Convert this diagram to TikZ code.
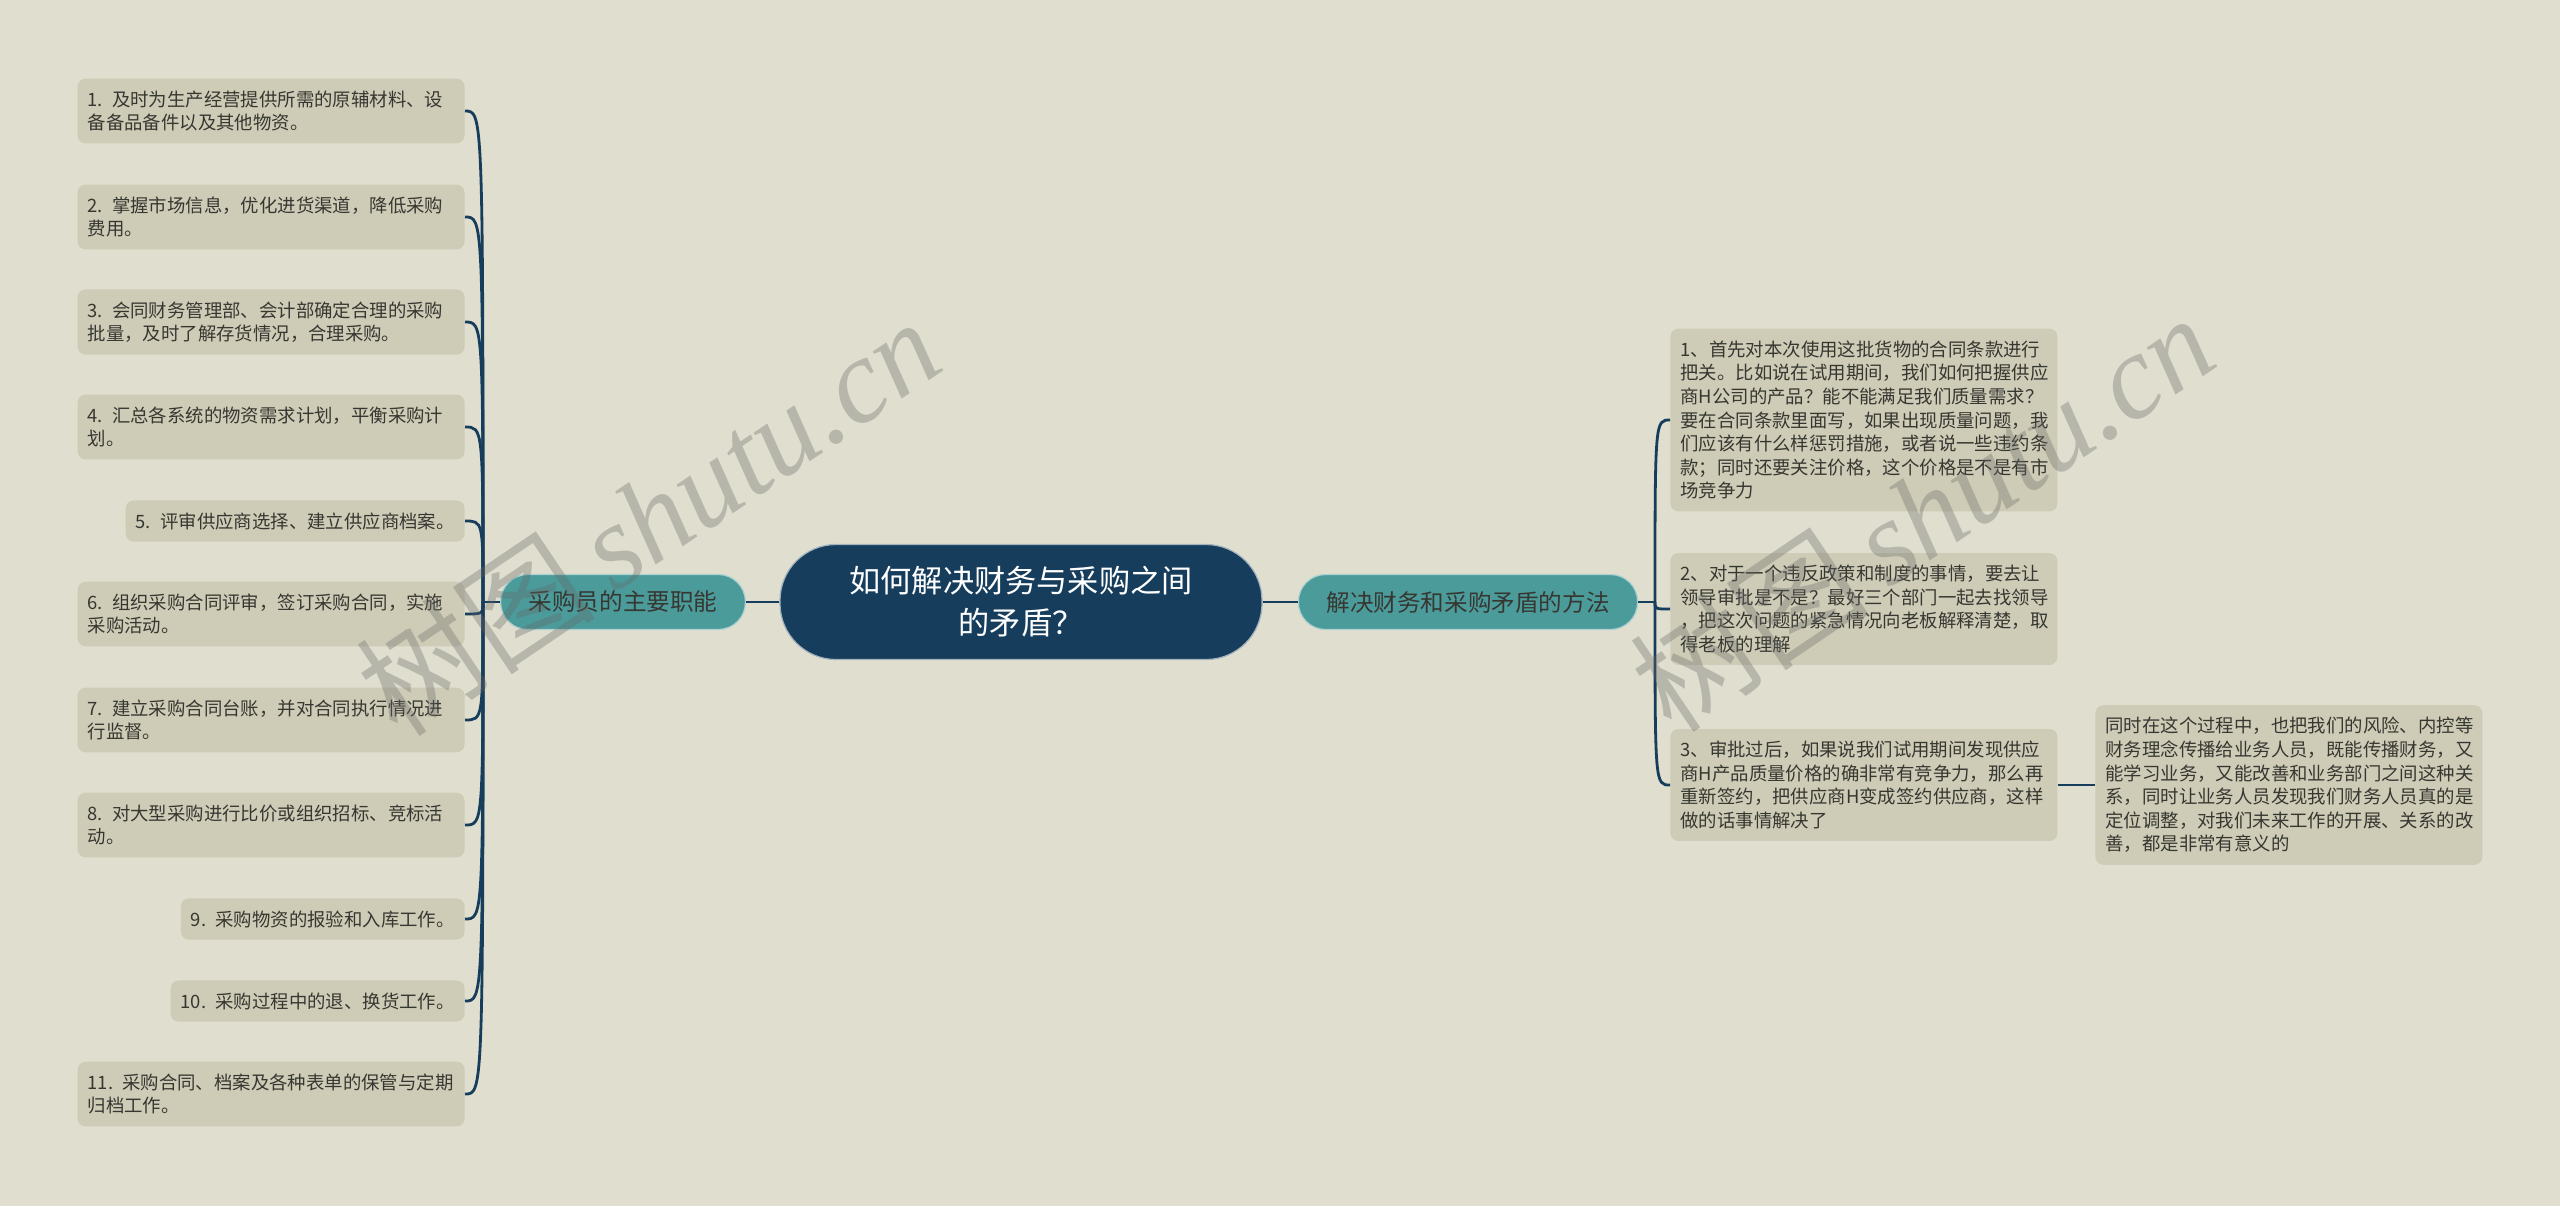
\documentclass[tikz,border=0pt]{standalone}
\usepackage{fontspec}
\setmainfont{Noto Sans CJK SC}
\newfontfamily\wmfont{Liberation Serif}
\usepackage{tikz}
\usetikzlibrary{positioning}
\definecolor{bgcol}{RGB}{224,222,206}
\definecolor{leafcol}{RGB}{206,204,182}
\definecolor{navy}{RGB}{23,61,92}
\definecolor{mmteal}{RGB}{76,155,155}
\definecolor{inkcol}{RGB}{55,55,50}

\begin{document}
\begin{tikzpicture}[x=0.5pt,y=-0.5pt]
    \tikzstyle{leaf}=[fill=leafcol,rounded corners=4pt,inner xsep=5pt,inner ysep=6pt,align=left,text=inkcol,font=\fontsize{9.2}{11.8}\selectfont]
    \tikzstyle{wide}=[text width=183.5pt]
    \tikzstyle{branch}=[fill=mmteal,draw=white!55!mmteal,line width=0.6pt,rounded corners=13.5pt,minimum height=27.5pt,inner xsep=14pt,text=inkcol,font=\fontsize{11.8}{14}\selectfont]
    \tikzstyle{topic}=[fill=navy,draw=white!60!navy,line width=0.6pt,rounded corners=28pt,minimum width=241pt,minimum height=57.5pt,align=center,text=white,font=\fontsize{15.6}{21}\selectfont]
    \tikzstyle{link}=[draw=navy,line width=1.4pt]
    \tikzstyle{wm}=[rotate=34,text=black!60,text opacity=0.33,font=\fontsize{60}{60}\selectfont]

    \useasboundingbox (0,0) rectangle (2560,1206);
    \fill[bgcol] (0,0) rectangle (2560,1206);

    \node[topic] (main) at (1021,602) {如何解决财务与采购之间\\的矛盾？};
    \node[branch] (lbr) at (623,602) {采购员的主要职能};
    \node[branch] (rbr) at (1468,602) {解决财务和采购矛盾的方法};

    \node[leaf,wide,anchor=east] (l1) at (465,111) {1.\enskip 及时为生产经营提供所需的原辅材料、设\\备备品备件以及其他物资。};
    \node[leaf,wide,anchor=east] (l2) at (465,217) {2.\enskip 掌握市场信息，优化进货渠道，降低采购\\费用。};
    \node[leaf,wide,anchor=east] (l3) at (465,322) {3.\enskip 会同财务管理部、会计部确定合理的采购\\批量，及时了解存货情况，合理采购。};
    \node[leaf,wide,anchor=east] (l4) at (465,427) {4.\enskip 汇总各系统的物资需求计划，平衡采购计\\划。};
    \node[leaf,anchor=east] (l5) at (465,521) {5.\enskip 评审供应商选择、建立供应商档案。};
    \node[leaf,wide,anchor=east] (l6) at (465,614) {6.\enskip 组织采购合同评审，签订采购合同，实施\\采购活动。};
    \node[leaf,wide,anchor=east] (l7) at (465,720) {7.\enskip 建立采购合同台账，并对合同执行情况进\\行监督。};
    \node[leaf,wide,anchor=east] (l8) at (465,825) {8.\enskip 对大型采购进行比价或组织招标、竞标活\\动。};
    \node[leaf,anchor=east] (l9) at (465,919) {9.\enskip 采购物资的报验和入库工作。};
    \node[leaf,anchor=east] (l10) at (465,1001) {10.\enskip 采购过程中的退、换货工作。};
    \node[leaf,wide,anchor=east] (l11) at (465,1094) {11.\enskip 采购合同、档案及各种表单的保管与定期\\归档工作。};

    \node[leaf,wide,anchor=west] (r1) at (1670,420) {1、首先对本次使用这批货物的合同条款进行\\把关。比如说在试用期间，我们如何把握供应\\商H公司的产品？能不能满足我们质量需求？\\要在合同条款里面写，如果出现质量问题，我\\们应该有什么样惩罚措施，或者说一些违约条\\款；同时还要关注价格，这个价格是不是有市\\场竞争力};
    \node[leaf,wide,anchor=west] (r2) at (1670,609) {2、对于一个违反政策和制度的事情，要去让\\领导审批是不是？最好三个部门一起去找领导\\，把这次问题的紧急情况向老板解释清楚，取\\得老板的理解};
    \node[leaf,wide,anchor=west] (r3) at (1670,785) {3、审批过后，如果说我们试用期间发现供应\\商H产品质量价格的确非常有竞争力，那么再\\重新签约，把供应商H变成签约供应商，这样\\做的话事情解决了};
    \node[leaf,wide,anchor=west] (c1) at (2095,785) {同时在这个过程中，也把我们的风险、内控等\\财务理念传播给业务人员，既能传播财务，又\\能学习业务，又能改善和业务部门之间这种关\\系，同时让业务人员发现我们财务人员真的是\\定位调整，对我们未来工作的开展、关系的改\\善，都是非常有意义的};

    \coordinate (lhub) at (483,602);
    \coordinate (rhub) at (1655,602);
    \draw[link] (main.west) -- (lbr.east);
    \draw[link] (main.east) -- (rbr.west);
    \draw[link] (lbr.west) -- (lhub);
    \draw[link] (rbr.east) -- (rhub);
    \foreach \i in {1,...,11} {
        \draw[link] (lhub) .. controls (lhub |- l\i.east) .. (l\i.east);
    }
    \foreach \i in {1,2,3} {
        \draw[link] (rhub) .. controls (rhub |- r\i.west) .. (r\i.west);
    }
    \draw[link] (r3.east) -- (c1.west);

    \node[wm] (wm1) at (648,516) {树图\,{\wmfont\itshape shutu.cn}};
    \node[wm] (wm2) at (1922,512) {树图\,{\wmfont\itshape shutu.cn}};
\end{tikzpicture}
\end{document}
